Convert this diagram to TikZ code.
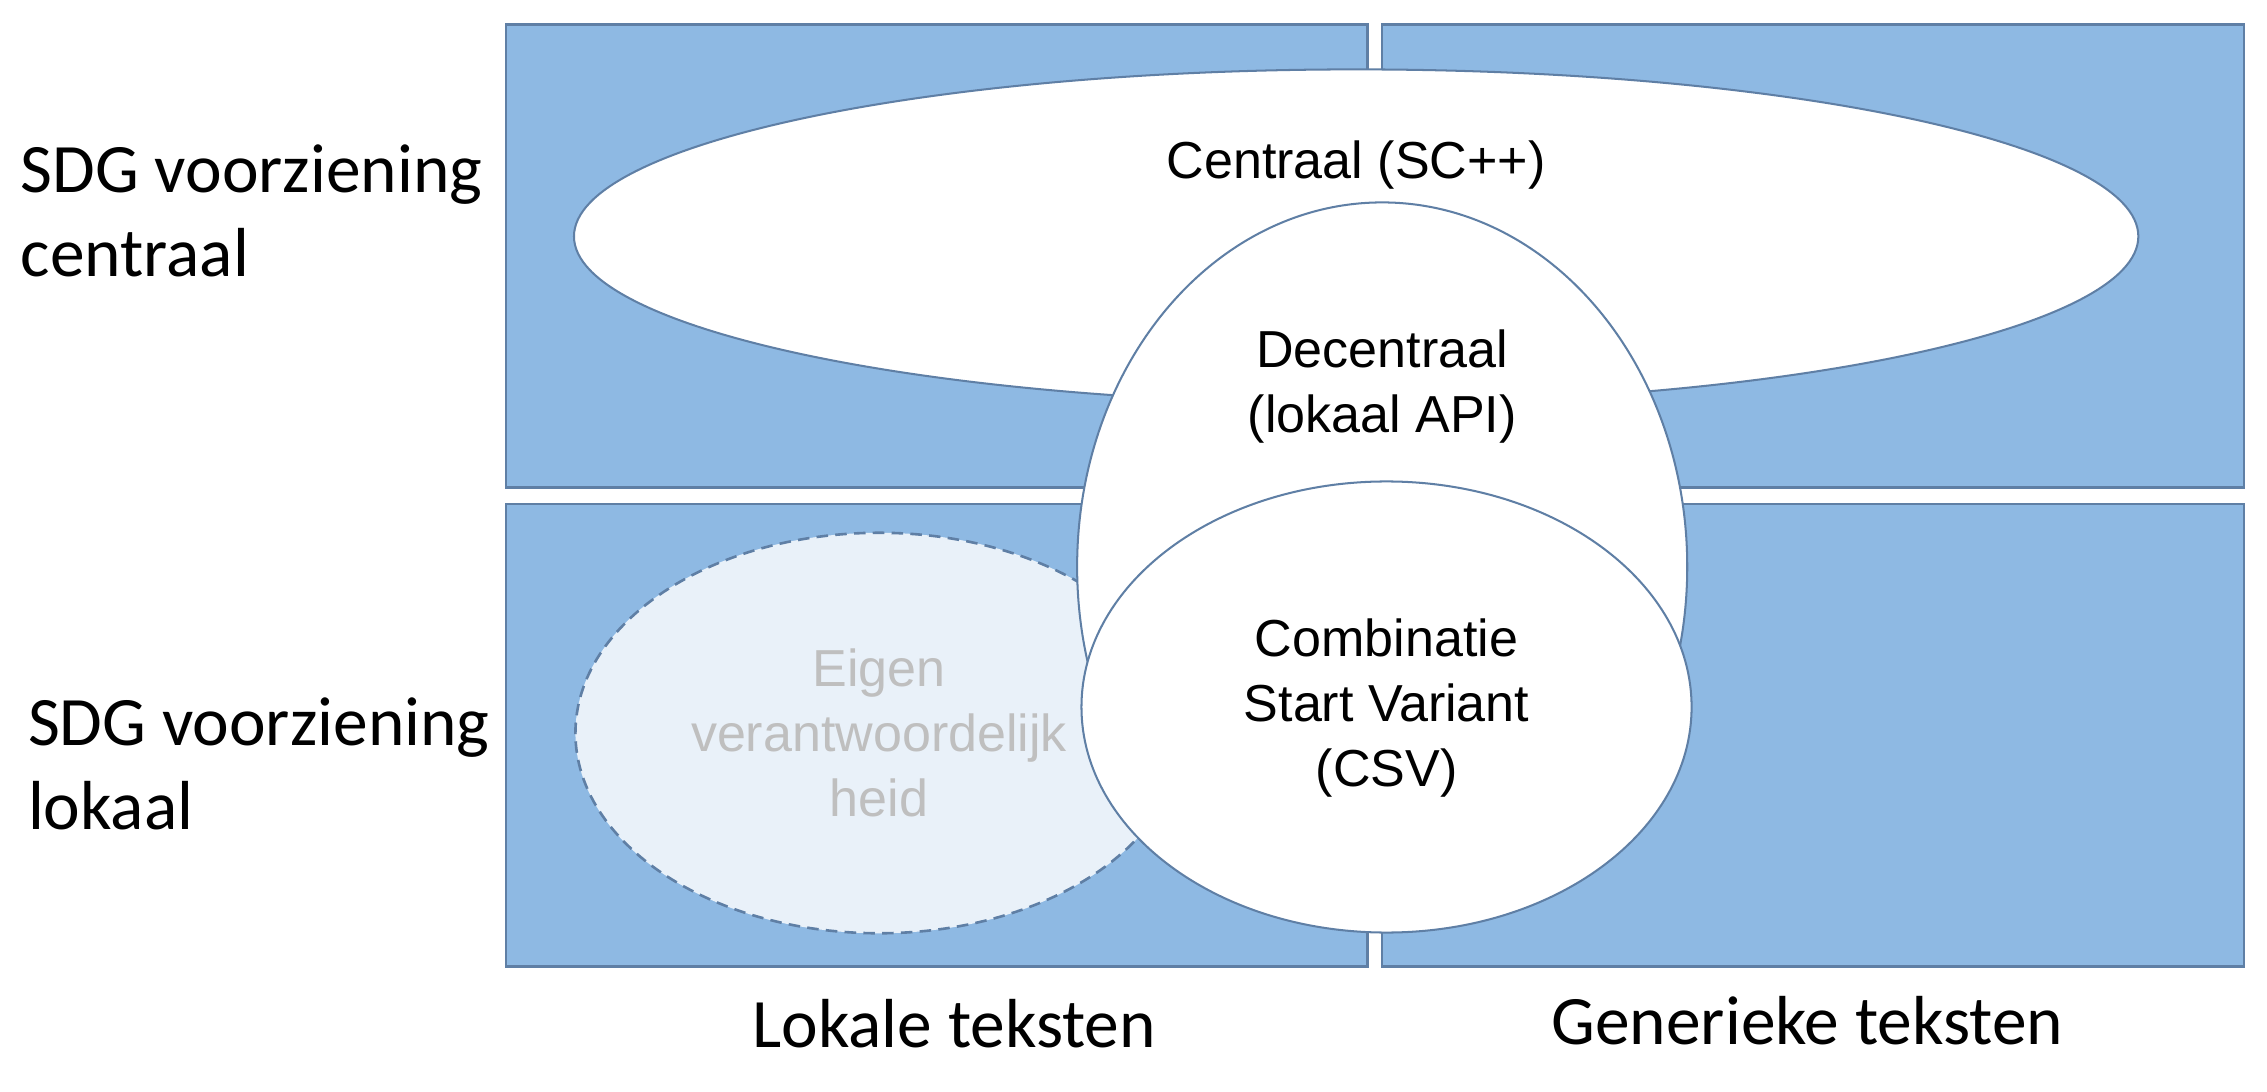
\documentclass[tikz,border=0pt]{standalone}
\usepackage{fontspec}
\setmainfont{Liberation Sans}
\newfontfamily\calib{Carlito}
\usetikzlibrary{shapes.geometric}
\definecolor{boxfill}{RGB}{142,185,227}
\definecolor{boxline}{RGB}{95,127,165}
\definecolor{lightfill}{RGB}{233,241,249}
\definecolor{greytext}{RGB}{191,191,191}
\begin{document}
\begin{tikzpicture}[x=0.5pt,y=-0.5pt,
  quad/.style={rectangle, draw=boxline, fill=boxfill, line width=0.9pt, minimum width=298pt, minimum height=160pt, inner sep=0pt, outer sep=0pt},
  oval/.style={ellipse, draw=boxline, fill=white, line width=0.7pt, inner sep=0pt, outer sep=0pt},
  intext/.style={font=\fontsize{18}{22.5}\selectfont, align=center, inner sep=0pt},
  sidelabel/.style={font=\calib\fontsize{24}{29}\selectfont, align=left, inner sep=0pt, anchor=west},
  footlabel/.style={font=\calib\fontsize{24}{29}\selectfont, inner sep=0pt}]
\useasboundingbox (0,0) rectangle (1568,755);
% quadrants
\node[quad] (tl) at (648,177) {};
\node[quad] (tr) at (1254,177) {};
\node[quad] (bl) at (648,508.5) {};
\node[quad] (br) at (1254,508.5) {};
% central ellipse
\node[oval, minimum width=541pt, minimum height=115.5pt] (centraal) at (938,163.5) {};
\node[intext] (tcentraal) at (938,114) {Centraal (SC++)};
% eigen verantwoordelijkheid
\node[oval, fill=lightfill, line width=0.9pt, dash pattern=on 4pt off 2.5pt, minimum width=210pt, minimum height=138.5pt] (eigen) at (608,507) {};
\node[intext, text=greytext] (teigen) at (608,507) {Eigen\\verantwoordelijk\\heid};
% decentraal
\node[oval, minimum width=211pt, minimum height=252pt] (decentraal) at (956,392) {};
\node[intext] (tdecentraal) at (956,267.5) {Decentraal\\(lokaal API)};
% CSV
\node[oval, minimum width=211pt, minimum height=156pt] (csv) at (959,489) {};
\node[intext] (tcsv) at (959,490) {Combinatie\\Start Variant\\(CSV)};
% side labels
\node[sidelabel] (lcentraal) at (14,146) {SDG voorziening\\centraal};
\node[sidelabel] (llokaal) at (19,528.5) {SDG voorziening\\lokaal};
% bottom labels
\node[footlabel] (llokale) at (660,708) {Lokale teksten};
\node[footlabel] (lgeneriek) at (1250,706) {Generieke teksten};
\end{tikzpicture}
\end{document}
